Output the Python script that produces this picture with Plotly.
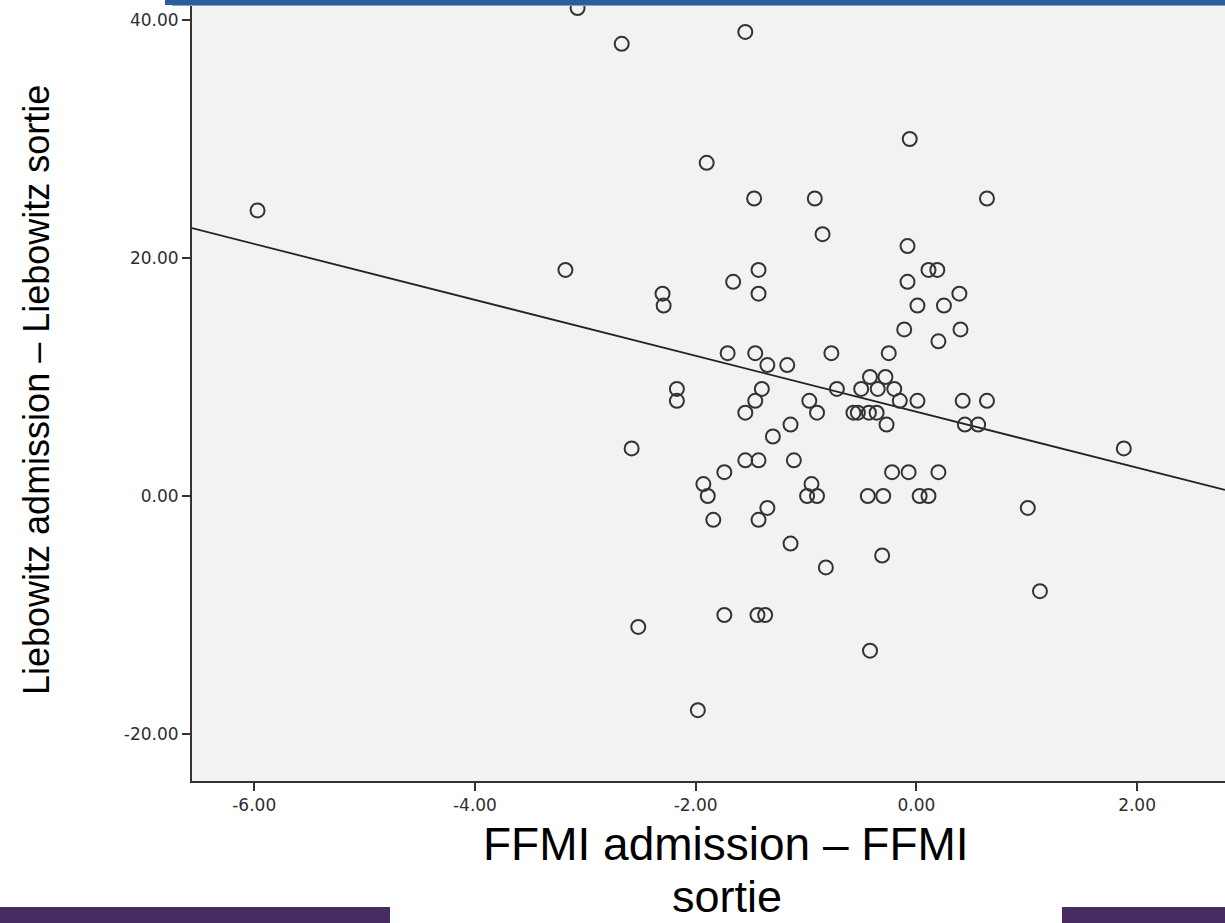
import numpy as np
import plotly.graph_objects as go

# FFMI admission - FFMI sortie (x) vs Liebowitz admission - Liebowitz sortie (y)
ffmi_diff = [
    -5.97, -3.07, -2.67, -1.55, -1.90, -0.06, -1.47, -0.92, 0.64, -0.85,
    -0.08, -3.18, -1.43, 0.11, 0.19, -2.30, -1.43, 0.39, -1.66, -0.08,
    -2.29, 0.01, 0.25, -0.11, 0.40, 0.20, -1.71, -1.46, -0.77, -0.25,
    -1.35, -1.17, -2.17, -2.17, -1.40, -0.72, -0.42, -0.28, -0.50, -0.35,
    -0.20, -1.46, -0.97, -0.15, 0.01, 0.42, 0.64, -1.55, -0.90, -0.57,
    -0.53, -0.43, -0.36, -1.14, -0.27, 0.44, 0.56, -1.30, -2.58, 1.88,
    -1.55, -1.43, -1.11, -1.74, -0.22, -0.07, 0.20, -1.93, -0.95, -1.89,
    -0.99, -0.90, -0.44, -0.30, 0.03, 0.11, -1.35, 1.01, -1.84, -1.43,
    -1.14, -0.31, -0.82, 1.12, -1.74, -1.44, -1.37, -2.52, -0.42, -1.98,
]
liebowitz_diff = [
    24, 41, 38, 39, 28, 30, 25, 25, 25, 22,
    21, 19, 19, 19, 19, 17, 17, 17, 18, 18,
    16, 16, 16, 14, 14, 13, 12, 12, 12, 12,
    11, 11, 9, 8, 9, 9, 10, 10, 9, 9,
    9, 8, 8, 8, 8, 8, 8, 7, 7, 7,
    7, 7, 7, 6, 6, 6, 6, 5, 4, 4,
    3, 3, 3, 2, 2, 2, 2, 1, 1, 0,
    0, 0, 0, 0, 0, 0, -1, -1, -2, -2,
    -4, -5, -6, -8, -10, -10, -10, -11, -13, -18,
]

# fit line (intercept at x = 0, slope)
fit_intercept = 7.08
fit_slope = -2.35

x_tick_vals = [-6, -4, -2, 0, 2]
x_tick_text = ["-6.00", "-4.00", "-2.00", "0.00", "2.00"]
y_tick_vals = [-20, 0, 20, 40]
y_tick_text = ["-20.00", "0.00", "20.00", "40.00"]

x_range = [-6.564, 2.797]
y_range = [-23.95, 41.68]

x_title_line1 = "FFMI admission \u2013 FFMI"
x_title_line2 = "sortie"
y_title = "Liebowitz admission \u2013 Liebowitz sortie"

fit_x = np.array(x_range)
fit_y = fit_intercept + fit_slope * fit_x

fig = go.Figure()
fig.add_trace(go.Scatter(
    x=fit_x, y=fit_y, mode="lines",
    line=dict(color="#222222", width=1.8),
    hoverinfo="skip", showlegend=False,
))
fig.add_trace(go.Scatter(
    x=ffmi_diff, y=liebowitz_diff, mode="markers",
    marker=dict(symbol="circle-open", size=14, color="#333333",
                line=dict(width=2, color="#333333")),
    showlegend=False,
))

axis_common = dict(
    showgrid=False, zeroline=False, showline=True, linecolor="#333333",
    linewidth=2, ticks="outside", ticklen=8, tickwidth=2, tickcolor="#333333",
    tickfont=dict(family="DejaVu Sans", size=17, color="#2e2e2e"),
)
fig.update_xaxes(range=x_range, tickvals=x_tick_vals, ticktext=x_tick_text, **axis_common)
fig.update_yaxes(range=y_range, tickvals=y_tick_vals, ticktext=y_tick_text, **axis_common)

W, H = 1225, 923
ml, mr, mt, mb = 192, 0, 0, 142
pw, ph = W - ml - mr, H - mt - mb

def px(xp):
    return (xp - ml) / pw

def py(yp):
    return (H - mb - yp) / ph

shapes = [
    # banner at top
    dict(type="rect", xref="paper", yref="paper", x0=px(165), x1=px(1230),
         y0=py(5), y1=py(-5), fillcolor="#2C5E9B", line=dict(width=0), layer="above"),
    dict(type="line", xref="paper", yref="paper", x0=px(172), x1=px(1230),
         y0=py(5.5), y1=py(5.5), line=dict(color="#7FA6D6", width=1), layer="above"),
    # purple bars at bottom
    dict(type="rect", xref="paper", yref="paper", x0=px(0), x1=px(390),
         y0=py(907), y1=py(925), fillcolor="#472C62", line=dict(width=0)),
    dict(type="rect", xref="paper", yref="paper", x0=px(1062), x1=px(1230),
         y0=py(907), y1=py(925), fillcolor="#472C62", line=dict(width=0)),
]

annotations = [
    dict(text=y_title, xref="paper", yref="paper", x=px(36), y=py(390),
         xanchor="center", yanchor="middle", textangle=-90, showarrow=False,
         font=dict(family="Liberation Sans", size=36, color="#000000")),
    dict(text=x_title_line1, xref="paper", yref="paper", x=px(726), y=py(844),
         xanchor="center", yanchor="middle", showarrow=False, borderpad=0,
         font=dict(family="Liberation Sans", size=46, color="#000000")),
    dict(text=x_title_line2, xref="paper", yref="paper", x=px(727), y=py(896),
         xanchor="center", yanchor="middle", showarrow=False, borderpad=0,
         font=dict(family="Liberation Sans", size=45, color="#000000")),
]

fig.update_layout(
    width=W, height=H,
    margin=dict(l=ml, r=mr, t=mt, b=mb, pad=0),
    paper_bgcolor="#FFFFFF", plot_bgcolor="#F2F2F2",
    shapes=shapes, annotations=annotations,
    showlegend=False,
)

fig.write_html(
    "out.html",
    config={"displayModeBar": False},
    post_script="document.body.style.margin='0';document.body.style.overflow='hidden';",
)
